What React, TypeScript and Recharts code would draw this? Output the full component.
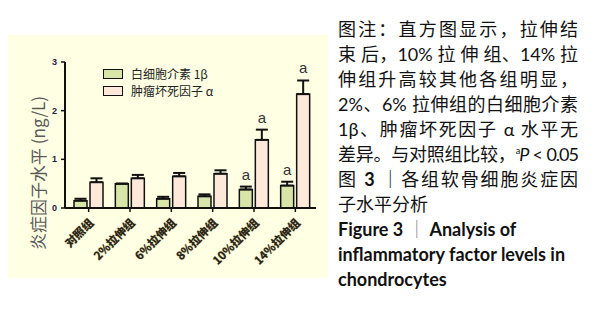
import { BarChart, Bar, XAxis, YAxis, ErrorBar } from 'recharts';

const groups = ['对照组', '2%拉伸组', '6%拉伸组', '8%拉伸组', '10%拉伸组', '14%拉伸组'];
const il1b = [0.15, 0.5, 0.19, 0.24, 0.38, 0.46];
const il1bErr = [0.04, 0, 0.04, 0.04, 0.06, 0.08];
const tnfa = [0.53, 0.61, 0.65, 0.705, 1.4, 2.34];
const tnfaErr = [0.08, 0.07, 0.07, 0.07, 0.21, 0.28];
const il1bSig = ['', '', '', '', 'a', 'a'];
const tnfaSig = ['', '', '', '', 'a', 'a'];
const yTicks = [0, 1, 2, 3];
const yTitle = '炎症因子水平 (ng/L)';

const data = groups.map((name, i) => ({
  name,
  il1b: il1b[i],
  il1bErr: [0, il1bErr[i]],
  tnfa: tnfa[i],
  tnfaErr: [0, tnfaErr[i]],
}));

const GREEN = '#d9e4a8';
const PINK = '#fde8da';
const BG = '#ffffe3';

const sigLabel = (sig: string[], errs: number[]) => (props: any) => {
  const { x, y, width, height, value, index } = props;
  if (!sig[index]) return null;
  const perUnit = value ? height / value : 0;
  const top = y - errs[index] * perUnit;
  return (
    <text x={x + width / 2} y={top - 7} textAnchor="middle" fontSize={15} fill="#333" fontFamily="Liberation Sans, Arial, sans-serif">
      {sig[index]}
    </text>
  );
};

const XTick = ({ x, y, payload }: any) => (
  <text
    x={x}
    y={y + 4}
    textAnchor="end"
    fontSize={11.5}
    fontWeight="bold"
    fill="#2a2418"
    fontFamily="'Noto Sans CJK SC', sans-serif"
    transform={`rotate(-45 ${x} ${y + 4})`}
    dy={8}
    style={{ textShadow: '0 0 1px #6a5a30' }}
  >
    {payload.value}
  </text>
);

const YTick = ({ x, y, payload }: any) => (
  <text x={x - 2} y={y} dy={3} textAnchor="end" fontSize={9} fontWeight="bold" fill="#1c2040" fontFamily="Liberation Sans, Arial, sans-serif">
    {payload.value}
  </text>
);

const justify = { textAlign: 'justify' as const, textAlignLast: 'justify' as const, whiteSpace: 'nowrap' as const };

const App = () => (
  <div style={{ position: 'absolute', left: 0, top: 0, width: 608, height: 311, background: '#fff', overflow: 'hidden' }}>
    <div style={{ position: 'absolute', left: 8, top: 35, width: 320, height: 243, background: BG }}>
      <BarChart
        width={320}
        height={243}
        data={data}
        margin={{ top: 27, right: 12, left: 0, bottom: 0 }}
        barSize={13}
        barGap={3}
      >
        <XAxis
          dataKey="name"
          height={70}
          interval={0}
          tick={<XTick />}
          axisLine={{ stroke: '#111', strokeWidth: 2 }}
          tickLine={{ stroke: '#111', strokeWidth: 1.5 }}
          tickSize={4}
          padding={{ left: 3, right: 0 }}
        />
        <YAxis
          width={57}
          domain={[0, 3]}
          ticks={yTicks}
          tick={<YTick />}
          axisLine={{ stroke: '#111', strokeWidth: 2 }}
          tickLine={{ stroke: '#111', strokeWidth: 1.5 }}
          tickSize={4}
        />
        <Bar dataKey="il1b" fill={GREEN} stroke="#111" strokeWidth={1.5} isAnimationActive={false} label={sigLabel(il1bSig, il1bErr)}>
          <ErrorBar dataKey="il1bErr" width={6} strokeWidth={2} stroke="#111" direction="y" />
        </Bar>
        <Bar dataKey="tnfa" fill={PINK} stroke="#111" strokeWidth={1.5} isAnimationActive={false} label={sigLabel(tnfaSig, tnfaErr)}>
          <ErrorBar dataKey="tnfaErr" width={6} strokeWidth={2} stroke="#111" direction="y" />
        </Bar>
      </BarChart>
      <div
        style={{
          position: 'absolute',
          left: 30 - 80,
          top: 138 - 11,
          width: 160,
          height: 22,
          lineHeight: '22px',
          textAlign: 'center',
          transform: 'rotate(-90deg)',
          fontFamily: "'Noto Sans CJK SC', sans-serif",
          fontSize: 17,
          color: '#5a5a5a',
          whiteSpace: 'nowrap',
        }}
      >
        {yTitle}
      </div>
      <div style={{ position: 'absolute', left: 95, top: 30, fontFamily: "'Noto Sans CJK SC', sans-serif", fontSize: 12, color: '#222' }}>
        <div style={{ display: 'flex', alignItems: 'center', height: 17 }}>
          <span style={{ width: 20, height: 10, background: GREEN, border: '1.5px solid #111', boxSizing: 'border-box', marginRight: 8 }} />
          白细胞介素 1β
        </div>
        <div style={{ display: 'flex', alignItems: 'center', height: 17 }}>
          <span style={{ width: 20, height: 10, background: PINK, border: '1.5px solid #111', boxSizing: 'border-box', marginRight: 8 }} />
          肿瘤坏死因子 α
        </div>
      </div>
    </div>
    <div style={{ position: 'absolute', left: 338, top: 17, width: 240, fontFamily: "Lato, 'Noto Sans CJK SC', sans-serif", fontSize: 18, lineHeight: '25px', color: '#111' }}>
      <div style={justify}>图注：直方图显示，拉伸结</div>
      <div style={justify}>束 后，10% 拉 伸 组、14% 拉</div>
      <div style={justify}>伸组升高较其他各组明显，</div>
      <div style={justify}>2%、6% 拉伸组的白细胞介素</div>
      <div style={justify}>1β、肿瘤坏死因子 α 水平无</div>
      <div style={{ ...justify, letterSpacing: -1 }}>差异。与对照组比较，<sup style={{ fontSize: 9, lineHeight: 0 }}>a</sup><i>P</i> &lt; 0.05</div>
      <div style={justify}>图 <b>3</b> ｜各组软骨细胞炎症因</div>
      <div>子水平分析</div>
      <div style={{ fontWeight: 'bold' }}>Figure 3 <span style={{ fontWeight: 'normal', color: '#888' }}>｜</span> Analysis of</div>
      <div style={{ fontWeight: 'bold' }}>inflammatory factor levels in</div>
      <div style={{ fontWeight: 'bold' }}>chondrocytes</div>
    </div>
  </div>
);

export default App;
